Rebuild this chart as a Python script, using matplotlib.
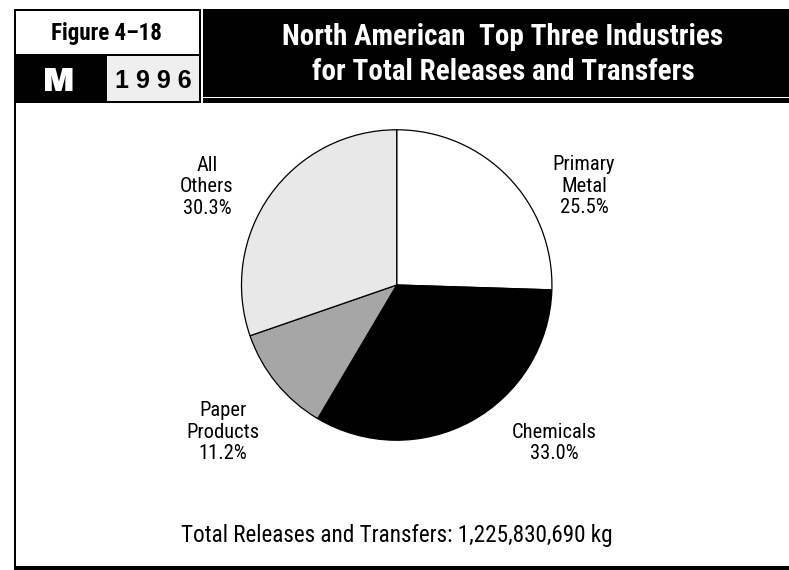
import matplotlib
matplotlib.use("Agg")
import matplotlib.pyplot as plt
from matplotlib.patches import Rectangle

# data
industries = ["Primary\nMetal", "Chemicals", "Paper\nProducts", "All\nOthers"]
shares = [25.5, 33.0, 11.2, 30.3]
slice_colors = ["#ffffff", "#000000", "#a6a6a6", "#e8e8e8"]
title_lines = ["North American  Top Three Industries", "for Total Releases and Transfers"]
figure_tag = "Figure 4\u201318"
region_tag = "M"
year_tag = "1 9 9 6"
total_text = "Total Releases and Transfers: 1,225,830,690 kg"

# label centres in pixels (x right, y down)
label_pos = [(584, 186), (554, 443), (223, 432), (207, 187)]

W, H = 789, 570
COND = ["Roboto Condensed", "DejaVu Sans"]

fig = plt.figure(figsize=(W / 100, H / 100), dpi=100)
bg = fig.add_axes([0, 0, 1, 1])
bg.set_xlim(0, W)
bg.set_ylim(H, 0)
bg.axis("off")

# header block
bg.add_patch(Rectangle((14, 9), W - 14, 94, facecolor="black", edgecolor="none"))
bg.add_patch(Rectangle((16, 11), 183, 43, facecolor="white", edgecolor="none"))
bg.add_patch(Rectangle((107, 56), 92, 45, facecolor="#efefef", edgecolor="none"))
bg.add_patch(Rectangle((201, 9), 2.5, 94, facecolor="white", edgecolor="none"))
bg.add_patch(Rectangle((203.5, 96.5), W - 203.5, 1.2, facecolor="white", edgecolor="none"))

# frame of the chart body
bg.add_patch(Rectangle((14, 103), 2, 465, facecolor="black", edgecolor="none"))
bg.add_patch(Rectangle((14, 565.5), W - 14, 4.5, facecolor="black", edgecolor="none"))

bg.text(106, 40, figure_tag, ha="center", va="baseline", fontsize=16.6,
        fontweight="bold", family=COND)
bg.text(59, 91, region_tag, ha="center", va="baseline", fontsize=24,
        color="white", family=["Archivo Black", "DejaVu Sans"])
bg.text(153, 87.5, year_tag, ha="center", va="baseline", fontsize=18,
        fontweight="bold", family=["Liberation Sans", "DejaVu Sans"])
for yb, line in zip([45, 80], title_lines):
    bg.text(503, yb, line, ha="center", va="baseline", fontsize=21,
            fontweight="bold", color="white", family=COND)

for (lx, ly), name, pct in zip(label_pos, industries, shares):
    bg.text(lx, ly, f"{name}\n{pct:.1f}%", ha="center", va="center",
            fontsize=14.8, family=COND, linespacing=1.17)

bg.text(396.5, 542, total_text, ha="center", va="baseline", fontsize=16.7,
        family=COND)

# pie: centre (396.7, 285) px, radius 156 px
cx, cy, r = 396.7, 285, 156
pie_ax = fig.add_axes([(cx - r) / W, (H - cy - r) / H, 2 * r / W, 2 * r / H])
pie_ax.pie(shares, colors=slice_colors, startangle=90, counterclock=False,
           radius=1, wedgeprops=dict(edgecolor="black", linewidth=0.9))
pie_ax.set_xlim(-1.005, 1.005)
pie_ax.set_ylim(-1.005, 1.005)
pie_ax.axis("off")

fig.savefig("out.png", dpi=100)
